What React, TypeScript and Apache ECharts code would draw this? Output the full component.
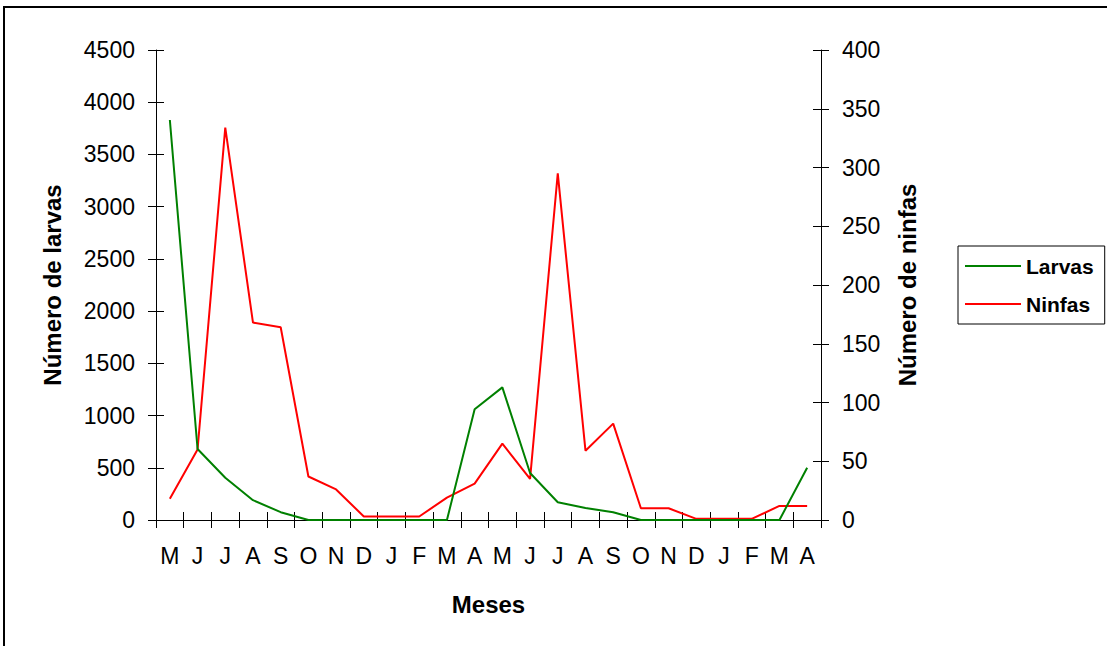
import React, { useEffect, useRef } from "react";
import * as echarts from "echarts";

const months = ["M", "J", "J", "A", "S", "O", "N", "D", "J", "F", "M", "A", "M", "J", "J", "A", "S", "O", "N", "D", "J", "F", "M", "A"];
const larvas = [3830, 680, 405, 190, 75, 0, 0, 0, 0, 0, 0, 1060, 1270, 450, 170, 115, 75, 0, 0, 0, 0, 0, 0, 500];
const ninfas = [18, 60, 334, 168, 164, 37, 26, 3, 3, 3, 19, 31, 65, 35, 295, 59, 82, 10, 10, 1, 1, 1, 12, 12];
const leftTicks = { min: 0, max: 4500, interval: 500 };
const rightTicks = { min: 0, max: 400, interval: 50 };

const FONT = "'Liberation Sans', Arial, sans-serif";

export default function App() {
  const ref = useRef<HTMLDivElement>(null);
  useEffect(() => {
    if (!ref.current) return;
    const chart = echarts.init(ref.current, null, { renderer: "svg" });
    const tickStyle = { color: "#000", width: 1 };
    const labelStyle = { color: "#000", fontSize: 23, fontFamily: FONT };
    const nameStyle = { color: "#000", fontSize: 24, fontWeight: "bold" as const, fontFamily: FONT };
    const plain = (v: number) => String(v);
    chart.setOption({
      animation: false,
      backgroundColor: "#fff",
      textStyle: { fontFamily: FONT },
      graphic: [
        {
          type: "rect",
          shape: { x: 4, y: 7, width: 1120, height: 660 },
          style: { fill: "none", stroke: "#000", lineWidth: 2 },
          silent: true,
        },
      ],
      grid: { left: 156, right: 286, top: 50, bottom: 126, containLabel: false },
      legend: {
        orient: "vertical",
        left: 958,
        top: 246,
        padding: [8, 11, 8, 7],
        itemGap: 14,
        itemWidth: 56,
        itemHeight: 2,
        icon: "rect",
        borderColor: "#000",
        borderWidth: 1,
        backgroundColor: "#fff",
        textStyle: { color: "#000", fontSize: 21, fontWeight: "bold", fontFamily: FONT, lineHeight: 24 },
        data: ["Larvas", "Ninfas"],
      },
      xAxis: [
        {
          type: "category",
          data: months,
          boundaryGap: true,
          name: "Meses",
          nameLocation: "middle",
          nameGap: 72,
          nameTextStyle: nameStyle,
          axisLine: { show: true, lineStyle: { color: "#000", width: 1 } },
          axisTick: { show: true, length: 8, lineStyle: tickStyle },
          axisLabel: { ...labelStyle, interval: 0, margin: 24 },
          splitLine: { show: false },
        },
        {
          type: "category",
          data: months,
          boundaryGap: true,
          position: "bottom",
          axisLine: { show: false },
          axisTick: { show: true, inside: true, length: 8, lineStyle: tickStyle },
          axisLabel: { show: false },
          splitLine: { show: false },
        },
      ],
      yAxis: [
        {
          type: "value",
          position: "left",
          ...leftTicks,
          name: "Número de larvas",
          nameLocation: "middle",
          nameRotate: 90,
          nameGap: 92,
          nameTextStyle: nameStyle,
          axisLine: { show: true, lineStyle: { color: "#000", width: 1 } },
          axisTick: { show: true, length: 8, lineStyle: tickStyle },
          axisLabel: { ...labelStyle, margin: 21, formatter: plain },
          splitLine: { show: false },
        },
        {
          type: "value",
          position: "right",
          ...rightTicks,
          name: "Número de ninfas",
          nameLocation: "middle",
          nameRotate: 90,
          nameGap: 74,
          nameTextStyle: nameStyle,
          axisLine: { show: true, lineStyle: { color: "#000", width: 1 } },
          axisTick: { show: true, length: 8, lineStyle: tickStyle },
          axisLabel: { ...labelStyle, margin: 21, formatter: plain },
          splitLine: { show: false },
        },
        {
          type: "value",
          position: "left",
          ...leftTicks,
          axisLine: { show: false },
          axisTick: { show: true, inside: true, length: 8, lineStyle: tickStyle },
          axisLabel: { show: false },
          splitLine: { show: false },
        },
        {
          type: "value",
          position: "right",
          ...rightTicks,
          axisLine: { show: false },
          axisTick: { show: true, inside: true, length: 8, lineStyle: tickStyle },
          axisLabel: { show: false },
          splitLine: { show: false },
        },
      ],
      series: [
        {
          name: "Larvas",
          type: "line",
          xAxisIndex: 0,
          yAxisIndex: 0,
          data: larvas,
          symbol: "none",
          color: "#008000",
          lineStyle: { color: "#008000", width: 2 },
          z: 3,
        },
        {
          name: "Ninfas",
          type: "line",
          xAxisIndex: 0,
          yAxisIndex: 1,
          data: ninfas,
          symbol: "none",
          color: "#ff0000",
          lineStyle: { color: "#ff0000", width: 2 },
          z: 2,
        },
      ],
    });
    return () => chart.dispose();
  }, []);
  return (
    <div
      ref={ref}
      style={{ position: "fixed", left: 0, top: 0, width: 1107, height: 646, background: "#fff" }}
    />
  );
}
